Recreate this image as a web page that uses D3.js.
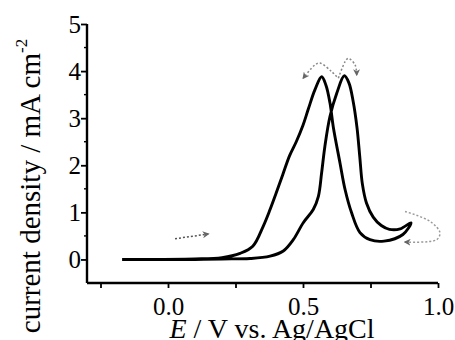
<!DOCTYPE html>
<html><head><meta charset="utf-8">
<script src="https://cdn.jsdelivr.net/npm/d3@7"></script>
<style>body{margin:0;background:#fff}svg{display:block}
text{font-family:"Liberation Serif","Times New Roman",serif !important;}</style>
</head><body>
<svg id="c" width="455" height="340"></svg>
<script>
// Forward scan (E / V, j / mA cm^-2)
const forwardE = [-0.17, 0.0, 0.1, 0.2, 0.304, 0.378, 0.427, 0.464, 0.501, 0.538, 0.557, 0.569, 0.581, 0.6, 0.625, 0.653, 0.67, 0.686, 0.70, 0.71, 0.72, 0.735, 0.76, 0.79, 0.82, 0.86, 0.9];
const forwardJ = [0, 0, 0, 0.01, 0.02, 0.07, 0.18, 0.42, 0.78, 1.06, 1.34, 1.84, 2.4, 3.04, 3.53, 3.9, 3.75, 3.35, 2.8, 2.2, 1.6, 1.2, 0.9, 0.72, 0.64, 0.65, 0.78];
// Reverse scan
const reverseE = [0.9, 0.87, 0.80, 0.748, 0.711, 0.68, 0.656, 0.637, 0.612, 0.6, 0.585, 0.569, 0.544, 0.52, 0.50, 0.475, 0.45, 0.425, 0.40, 0.378, 0.353, 0.314, 0.267, 0.2, 0.1, -0.17];
const reverseJ = [0.78, 0.53, 0.39, 0.42, 0.57, 0.99, 1.48, 2.05, 2.82, 3.32, 3.7, 3.88, 3.6, 3.2, 2.85, 2.5, 2.2, 1.8, 1.4, 1.06, 0.71, 0.28, 0.13, 0.04, 0.01, 0];
// Axis ticks
const xTickLabels = [0.0, 0.5, 1.0];
const xTicksAll = [-0.25, 0, 0.25, 0.5, 0.75, 1.0];
const yTickLabels = [0, 1, 2, 3, 4, 5];
const yTicksMinor = [0.5, 1.5, 2.5, 3.5, 4.5];
// Scan-direction arrows (data units)
const arrowFwdE = [0.026, 0.149];
const arrowFwdJ = [0.44, 0.54];
const arrowPk1E = [0.625, 0.606, 0.563, 0.544, 0.501];
const arrowPk1J = [3.88, 3.99, 4.17, 4.13, 3.85];
const arrowPk2E = [0.631, 0.656, 0.668, 0.693, 0.699];
const arrowPk2J = [3.85, 4.2, 4.27, 4.13, 3.92];
const arrowVtxE = [0.878, 0.97, 1.007, 0.995, 0.878];
const arrowVtxJ = [1.02, 0.81, 0.57, 0.42, 0.37];

const svg = d3.select('#c');
const x = d3.scaleLinear().domain([-0.3, 1.0]).range([87, 438]);
const y = d3.scaleLinear().domain([-0.5, 5]).range([283, 24]);
const serif = '"Liberation Serif", "Times New Roman", serif';

svg.append('defs').append('marker')
  .attr('id', 'ah').attr('viewBox', '0 0 10 10').attr('refX', 8).attr('refY', 5)
  .attr('markerWidth', 7).attr('markerHeight', 7).attr('markerUnits', 'userSpaceOnUse')
  .attr('orient', 'auto')
  .append('path').attr('d', 'M0,0 L10,5 L0,10 L3,5 Z').attr('fill', '#666');

// Axes
const xAxis = d3.axisBottom(x).tickValues(xTicksAll).tickSize(5)
  .tickFormat(d => xTickLabels.includes(d) ? d3.format('.1f')(d) : '');
const gx = svg.append('g').attr('transform', 'translate(0,283)').call(xAxis).attr('font-family', serif);
gx.select('.domain').attr('stroke-width', 2.4).attr('d', `M${x(-0.3)},0H${x(1.0)}`);
gx.selectAll('.tick line').attr('stroke-width', 1.8);
gx.selectAll('.tick text').attr('font-size', 25).attr('fill', '#000').attr('y', 9).attr('dy', '0.9em');

const yAxis = d3.axisLeft(y).tickValues(yTickLabels).tickSize(6).tickFormat(d3.format('d'));
const gy = svg.append('g').attr('transform', `translate(${x(-0.3)},0)`).call(yAxis).attr('font-family', serif);
gy.select('.domain').attr('stroke-width', 2.4).attr('d', `M0,${y(-0.5)}V${y(5)}`);
gy.selectAll('.tick line').attr('stroke-width', 1.8);
gy.selectAll('.tick text').attr('font-size', 25).attr('fill', '#000').attr('x', -6).attr('dy', '0.34em');
svg.append('g').selectAll('line').data(yTicksMinor).join('line')
  .attr('x1', x(-0.3) - 3).attr('x2', x(-0.3)).attr('y1', d => y(d)).attr('y2', d => y(d))
  .attr('stroke', '#000').attr('stroke-width', 1.4);

// Axis titles
const xt = svg.append('text').attr('x', 272).attr('y', 338).attr('text-anchor', 'middle')
  .attr('font-family', serif).attr('font-size', 28).attr('fill', '#000');
xt.append('tspan').attr('font-style', 'italic').text('E');
xt.append('tspan').text(' / V vs. Ag/AgCl');

const yt = svg.append('text').attr('transform', 'translate(40,186) rotate(-90)').attr('text-anchor', 'middle')
  .attr('font-family', serif).attr('font-size', 29).attr('fill', '#000');
yt.append('tspan').text('current density / mA cm');
yt.append('tspan').attr('font-size', 17).attr('dy', -13).text('-2');

// CV curve
const pts = forwardE.map((e, i) => [e, forwardJ[i]])
  .concat(reverseE.slice(1).map((e, i) => [e, reverseJ[i + 1]]));
const line = d3.line().x(d => x(d[0])).y(d => y(d[1])).curve(d3.curveCatmullRom.alpha(0.5));
svg.append('path').attr('d', line(pts)).attr('fill', 'none').attr('stroke', '#000')
  .attr('stroke-width', 2.9).attr('stroke-linejoin', 'round');

// Direction arrows
function arrow(E, J, color) {
  const p = E.map((e, i) => [e, J[i]]);
  svg.append('path').attr('d', line(p)).attr('fill', 'none').attr('stroke', color)
    .attr('stroke-width', 1.5).attr('stroke-dasharray', '2,2').attr('marker-end', 'url(#ah)');
}
arrow(arrowFwdE, arrowFwdJ, '#555');
arrow(arrowPk1E, arrowPk1J, '#888');
arrow(arrowPk2E, arrowPk2J, '#888');
arrow(arrowVtxE, arrowVtxJ, '#999');
</script>
</body></html>
